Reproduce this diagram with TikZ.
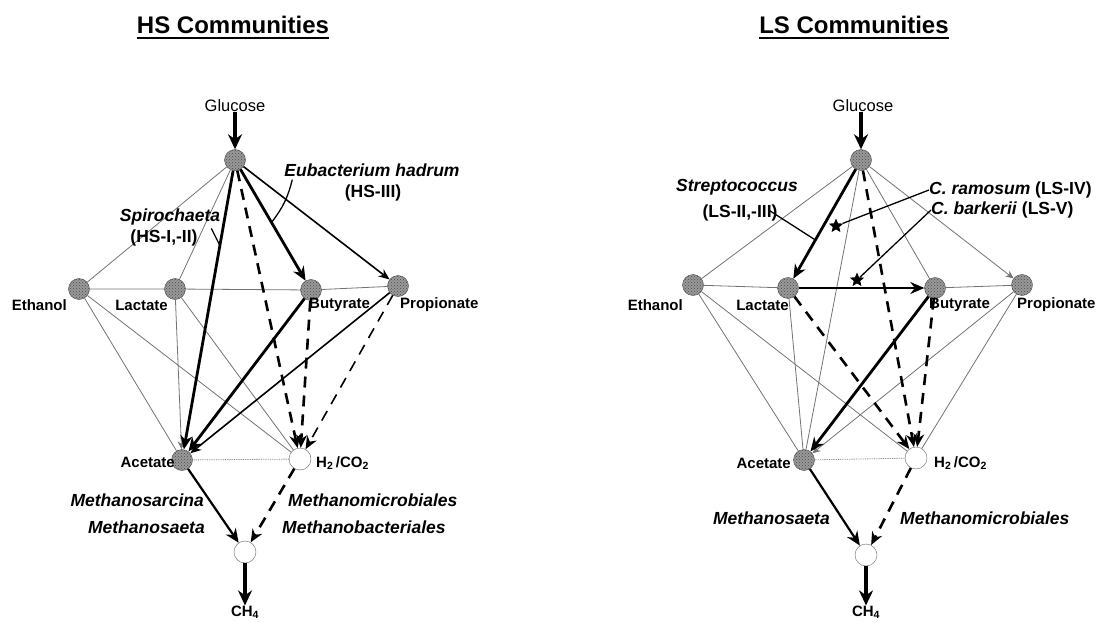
\documentclass[tikz,border=0pt]{standalone}
\usepackage{fontspec}
\setmainfont{Liberation Sans}
\usetikzlibrary{arrows.meta,calc,shapes.geometric,patterns}
\tikzset{
    sub/.style={circle,draw=black!70,fill=black!40,minimum size=21pt,inner sep=0pt,
      postaction={pattern=crosshatch dots,pattern color=black!70}},
    gas/.style={circle,draw=black!60,fill=white,minimum size=22pt,inner sep=0pt},
    lab/.style={font=\fontsize{15}{17}\selectfont\bfseries,inner sep=0pt},
    org/.style={font=\fontsize{17.5}{20}\selectfont\bfseries\itshape,inner sep=0pt},
    ttl/.style={font=\fontsize{24}{28}\selectfont\bfseries,inner sep=0pt},
    weak/.style={line width=0.8pt,black!55},
    weakarr/.style={weak,-{Stealth[length=8pt,width=7pt]}},
    medflux/.style={line width=1.6pt,-{Stealth[length=11pt,width=9pt]}},
    bigflux/.style={line width=2.8pt,-{Stealth[length=14pt,width=12pt]}},
    h2flux/.style={line width=2.6pt,dash pattern=on 11pt off 8pt,-{Stealth[length=13pt,width=11pt]}},
    inflow/.style={line width=4pt,-{Stealth[length=15pt,width=14pt]}},
    hint/.style={line width=1.3pt},
    mark star/.style={star,star points=5,star point ratio=2.2,fill=black,minimum size=15pt,inner sep=0pt},
}
\begin{document}
\begin{tikzpicture}[x=1pt,y=-1pt]
          %pixel grid, y downward
          \useasboundingbox (0,0) rectangle (1098,623);
          % ---- HS communities
          \node[ttl] (tL) at (233,25) {HS Communities};
          \draw[line width=2.2pt] ([yshift=-4pt]tL.south west) -- ([yshift=-4pt]tL.south east);
          \node[font=\fontsize{16.5}{18}\selectfont,inner sep=0pt] (gL) at (235,106) {Glucose};
          \node[sub] (G) at (235,160) {};
          \node[sub] (E) at (79,289) {};
          \node[sub] (L) at (175,289) {};
          \node[sub] (B) at (311,290) {};
          \node[sub] (P) at (398,286) {};
          \node[sub] (A) at (182,460) {};
          \node[gas] (H) at (300,459) {};
          \node[gas] (M) at (245,552) {};
          \node[lab,anchor=east] (tE) at (67,305) {Ethanol};
          \node[lab,anchor=east] (tLa) at (168,305) {Lactate};
          \node[lab,anchor=west] (tB) at (309,305) {Butyrate};
          \node[lab,anchor=west] (tP) at (400,305) {Propionate};
          \node[lab,anchor=east] (tA) at (175,462) {Acetate};
          \node[lab,anchor=west] (tH) at (316,463) {H\textsubscript{2}\,/CO\textsubscript{2}};
          \node[lab] (tM) at (245,612) {CH\textsubscript{4}};
          \draw[inflow] (gL) -- (G);
          \draw[inflow] (M) -- (tM);
          % thin links
          \draw[weak] (G) -- (E);
          \draw[weak] (G) -- (L);
          \draw[weak] (E) -- (L) -- (B) -- (P);
          \draw[weak] (E) -- (A);
          \draw[weak] (E) -- (H);
          \draw[weak] (L) -- (H);
          \draw[weak,densely dotted] (A) -- (H);
          \draw[weakarr] (L) -- (A);
          % main fluxes
          \draw[bigflux] (G) -- (A);
          \draw[bigflux] (G) -- (B);
          \draw[bigflux] (B) -- (A);
          \draw[medflux] (G) -- (P);
          \draw[medflux] (P) -- (A);
          \draw[h2flux] (G) -- (H);
          \draw[h2flux] (B) -- (H);
          \draw[h2flux,line width=1.6pt] (P) -- (H);
          \draw[bigflux,line width=2.2pt] (A) -- (M);
          \draw[h2flux] (H) -- (M);
          % organisms
          \node[org] (eu) at (372,170) {Eubacterium hadrum};
          \node[lab,font=\fontsize{17.5}{20}\selectfont\bfseries] (eu2) at (373,193) {(HS-III)};
          \node[org] (sp) at (170,217) {Spirochaeta};
          \node[lab,font=\fontsize{17.5}{20}\selectfont\bfseries] (sp2) at (164,238) {(HS-I,-II)};
          \coordinate (pE) at ($(G)!0.48!(B)$);
          \coordinate (pS) at ($(G)!0.285!(A)$);
          \draw[hint] ([xshift=8pt,yshift=-3pt]eu.south west) to[bend left=12] (pE);
          \draw[hint] ([xshift=-9pt,yshift=-3pt]sp.south east) -- (pS);
          \node[org,anchor=east] (ms1) at (204,500) {Methanosarcina};
          \node[org,anchor=east] (ms2) at (205,527) {Methanosaeta};
          \node[org,anchor=west] (mm1) at (288,500) {Methanomicrobiales};
          \node[org,anchor=west] (mm2) at (282,527) {Methanobacteriales};
          % ---- LS communities
          \node[ttl] (tR) at (854,25) {LS Communities};
          \draw[line width=2.2pt] ([yshift=-4pt]tR.south west) -- ([yshift=-4pt]tR.south east);
          \node[font=\fontsize{16.5}{18}\selectfont,inner sep=0pt] (gR) at (863,106) {Glucose};
          \node[sub] (G2) at (861,160) {};
          \node[sub] (E2) at (693,285) {};
          \node[sub] (L2) at (788,288) {};
          \node[sub] (B2) at (935,288) {};
          \node[sub] (P2) at (1022,285) {};
          \node[sub] (A2) at (804,460) {};
          \node[gas] (H2) at (916,458) {};
          \node[gas] (M2) at (866,555) {};
          \node[lab,anchor=east] (tE2) at (683,305) {Ethanol};
          \node[lab,anchor=east] (tL2) at (789,305) {Lactate};
          \node[lab,anchor=west] (tB2) at (929,305) {Butyrate};
          \node[lab,anchor=west] (tP2) at (1017,305) {Propionate};
          \node[lab,anchor=east] (tA2) at (791,463) {Acetate};
          \node[lab,anchor=west] (tH2) at (934,463) {H\textsubscript{2}\,/CO\textsubscript{2}};
          \node[lab] (tM2) at (866,612) {CH\textsubscript{4}};
          \draw[inflow] (gR.south -| G2) -- (G2);
          \draw[inflow] (M2) -- (tM2);
          % thin links
          \draw[weak] (G2) -- (E2);
          \draw[weak] (G2) -- (A2);
          \draw[weak] (G2) -- (B2);
          \draw[weak] (E2) -- (L2);
          \draw[weak] (B2) -- (P2);
          \draw[weak] (E2) -- (A2);
          \draw[weak] (E2) -- (H2);
          \draw[weak] (L2) -- (A2);
          \draw[weak] (P2) -- (H2);
          \draw[weak,densely dotted] (A2) -- (H2);
          \draw[weakarr] (G2) -- (P2);
          \draw[weakarr] (P2) -- (A2);
          % main fluxes
          \draw[bigflux] (G2) -- (L2);
          \draw[bigflux] (L2) -- (B2);
          \draw[bigflux] (B2) -- (A2);
          \draw[h2flux] (G2) -- (H2);
          \draw[h2flux] (L2) -- (H2);
          \draw[h2flux] (B2) -- (H2);
          \draw[bigflux,line width=2.2pt] (A2) -- (M2);
          \draw[h2flux] (H2) -- (M2);
          % organisms
          \node[org] (st) at (737,187) {Streptococcus};
          \node[lab,font=\fontsize{17.5}{20}\selectfont\bfseries] (st2) at (740,213) {(LS-II,-III)};
          \node[anchor=west,inner sep=0pt,font=\fontsize{17.5}{20}\selectfont\bfseries] (rm) at (929,190) {\textit{C. ramosum} (LS-IV)};
          \node[anchor=west,inner sep=0pt,font=\fontsize{17.5}{20}\selectfont\bfseries] (bk) at (931,210) {\textit{C. barkerii} (LS-V)};
          \node[mark star] (s1) at (836,226) {};
          \node[mark star] (s2) at (857,280) {};
          \coordinate (pSt) at ($(G2)!0.625!(L2)$);
          \draw[hint] ([xshift=-8pt,yshift=-6pt]st2.north east) -- (pSt);
          \draw[hint] (rm.west) -- (s1);
          \draw[hint] (bk.west) -- (s2);
          \node[org,anchor=east] (ms3) at (830,518) {Methanosaeta};
          \node[org,anchor=west] (mm3) at (900,518) {Methanomicrobiales};
\end{tikzpicture}
\end{document}
